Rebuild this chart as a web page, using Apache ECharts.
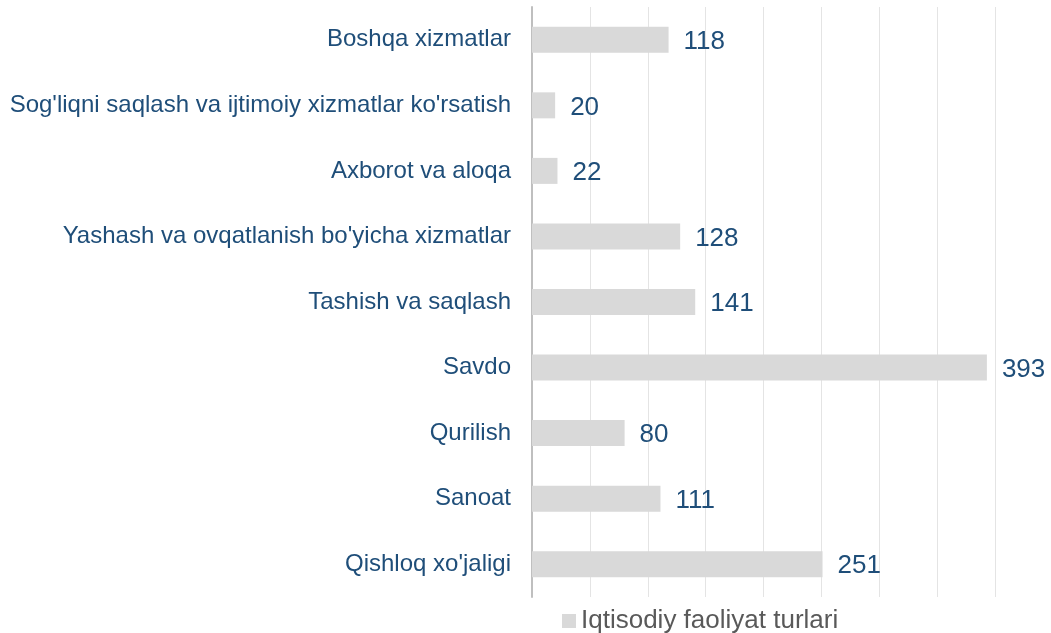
<!DOCTYPE html>
<html>
<head>
<meta charset="utf-8">
<script src="https://cdn.jsdelivr.net/npm/echarts@6/dist/echarts.min.js"></script>
<style>
html,body{margin:0;padding:0;background:#fff;}
#chart{width:1051px;height:633px;}
</style>
</head>
<body>
<div id="chart"></div>
<script>
const categories = [
  "Qishloq xo'jaligi",
  "Sanoat",
  "Qurilish",
  "Savdo",
  "Tashish va saqlash",
  "Yashash va ovqatlanish bo'yicha xizmatlar",
  "Axborot va aloqa",
  "Sog'liqni saqlash va ijtimoiy xizmatlar ko'rsatish",
  "Boshqa xizmatlar"
];
const values = [251, 111, 80, 393, 141, 128, 22, 20, 118];
const seriesName = "Iqtisodiy faoliyat turlari";

const chart = echarts.init(document.getElementById('chart'));
chart.setOption({
  animation: false,
  textStyle: { fontFamily: 'Liberation Sans, Arial, sans-serif' },
  grid: { left: 532, right: 56, top: 7, bottom: 36, containLabel: false },
  legend: {
    data: [seriesName],
    left: 557,
    top: 603,
    icon: 'rect',
    itemWidth: 14,
    itemHeight: 14,
    itemGap: 5,
    textStyle: { color: '#595959', fontSize: 26, fontFamily: 'Liberation Sans, Arial, sans-serif' }
  },
  xAxis: {
    type: 'value',
    min: 0,
    max: 400,
    interval: 50,
    axisLabel: { show: false },
    axisLine: { show: false },
    axisTick: { show: false },
    splitLine: { show: true, lineStyle: { color: '#e4e4e4', width: 1 } }
  },
  yAxis: {
    type: 'category',
    data: categories,
    axisLine: { show: true, lineStyle: { color: '#bfbfbf', width: 2 } },
    axisTick: { show: false },
    axisLabel: { color: '#1F4E79', fontSize: 24, margin: 21, fontFamily: 'Liberation Sans, Arial, sans-serif' }
  },
  series: [{
    name: seriesName,
    type: 'bar',
    data: values,
    barWidth: 26,
    itemStyle: { color: '#d9d9d9' },
    label: {
      show: true,
      position: 'right',
      distance: 15,
      offset: [0, 2],
      color: '#1F4E79',
      fontSize: 26,
      fontFamily: 'Liberation Sans, Arial, sans-serif'
    }
  }]
});
</script>
</body>
</html>
